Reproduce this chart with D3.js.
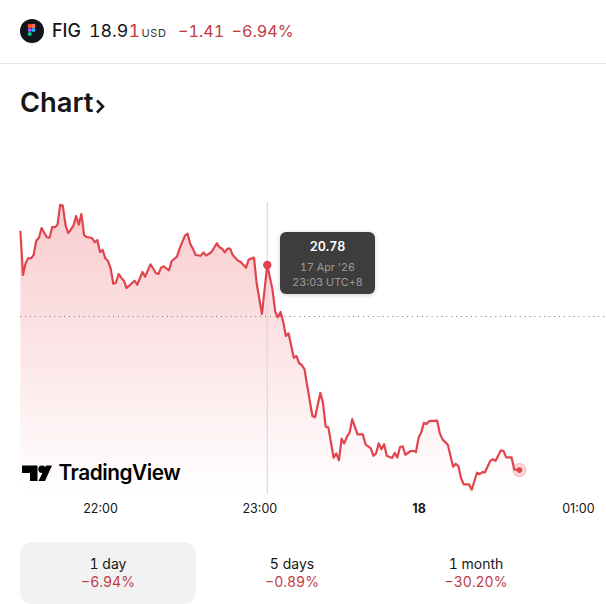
<!DOCTYPE html>
<html><head><meta charset="utf-8">
<script src="https://cdn.jsdelivr.net/npm/d3@7/dist/d3.min.js"></script>
<style>html,body{margin:0;padding:0;background:#fff;overflow:hidden}svg{display:block;font-family:Inter,sans-serif;font-variant-numeric:tabular-nums}.tick text{font-variant-numeric:normal}</style>
</head><body><svg id="c" width="606" height="604"></svg>
<script>
// minutes after 21:30
const minutes=[0,1,2,3,4,5,6,7,8,9,10,11,12,13,14,15,16,17,18,19,20,21,22,23,24,25,27,28,29,30,31,32,33,34,35,36,37,38,39,40,41,43,44,46,47,49,50,51,52,53,54,56,57,59,60,62,63,64,65,66,68,69,70,72,74,75,76,77,78,79,80,82,83,85,86,88,89,91,93,95,96,97,98,99,100,101,103,104,105,106,107,108,110,111,113,114,115,116,118,119,120,121,122,123,124,125,127,129,130,132,133,134,135,136,137,138,140,141,142,143,144,145,147,148,149,150,151,152,153,154,157,158,159,161,163,164,165,166,167,169,170,172,173,174,175,177,178,179,181,182,183,185,186,188];
const prices=[21.089,20.69,20.798,20.843,20.84,20.87,20.999,21.026,21.113,21.071,21.03,21.026,21.123,21.12,21.143,21.321,21.315,21.141,21.068,21.098,21.134,21.222,21.143,21.24,21.05,21.032,21.023,20.985,21.005,20.897,20.915,20.84,20.816,20.75,20.611,20.62,20.699,20.665,20.638,20.572,20.593,20.638,20.602,20.717,20.674,20.786,20.75,20.708,20.699,20.756,20.768,20.732,20.816,20.855,20.93,21.044,21.062,20.969,20.927,20.87,20.863,20.894,20.864,20.897,20.976,20.939,20.927,20.894,20.927,20.927,20.87,20.819,20.807,20.756,20.828,20.846,20.615,20.338,20.78,20.554,20.359,20.308,20.356,20.269,20.14,20.164,19.944,19.959,19.894,19.878,19.842,19.698,19.418,19.407,19.628,19.533,19.322,19.316,19.042,19.082,19.019,19.214,19.172,19.232,19.268,19.391,19.253,19.253,19.163,19.127,19.06,19.082,19.172,19.118,19.163,19.06,19.04,19.086,19.046,19.139,19.145,19.069,19.103,19.105,19.094,19.223,19.271,19.358,19.346,19.373,19.376,19.262,19.208,19.16,18.961,18.988,18.965,18.857,18.802,18.802,18.754,18.907,18.895,18.913,18.911,19.015,19.028,19.015,19.109,19.103,19.046,19.046,18.938,18.931];
const previousClose=20.32;
const tickMinutes=[30,90,150,210];
const tickLabels=["22:00","23:00","18","01:00"];
const hoverMinute=93;
const tabNames=["1 day","5 days","1 month"];
const tabChanges=["\u22126.94%","\u22120.89%","\u221230.20%"];

const RED="#e2444e",TXT="#c23b45",INK="#161616";
const svg=d3.select("#c");
const x=d3.scaleLinear().domain([0,210]).range([20.35,577.9]);
const y=d3.scaleLinear().domain([21.4,18.7]).range([196.2,495.7]);
const pts=minutes.map((m,i)=>({m,p:prices[i]}));
const T=(s,a,b,o={})=>svg.append("text").attr("x",a).attr("y",b).attr("fill",o.fill||INK).attr("font-size",o.size||14).attr("font-weight",o.weight||400).attr("text-anchor",o.anchor||"start").text(s);

// header
const logo=svg.append("g");
logo.append("circle").attr("cx",32).attr("cy",31).attr("r",12).attr("fill","#12151c");
[["#f24e1e",29.7,26,"r"],["#ff7262",33.3,26,"l"],["#a259ff",29.7,30,"c"],["#1abcfe",33.4,30,"c"],["#0acf83",29.7,34,"c"]].forEach(d=>{
  logo.append("rect").attr("x",d[1]-2).attr("y",d[2]-2).attr("width",4).attr("height",4).attr("rx",d[3]=="c"?2:1).attr("fill",d[0]);
});
T("FIG",52,37,{size:18,weight:500});
const pr=T("18.9",89,37,{size:17.8,weight:400});
pr.append("tspan").attr("fill",TXT).text("1");
T("USD",141.5,37,{size:11,fill:"#333",weight:400}).attr("letter-spacing",0.6);
T("\u22121.41",178,37,{size:16.2,fill:TXT});
T("\u22126.94%",231.5,37,{size:16.2,fill:TXT});
svg.append("line").attr("x1",0).attr("x2",606).attr("y1",63.5).attr("y2",63.5).attr("stroke","#e8e8e8");
T("Chart",20,112,{size:27.3,weight:600});
svg.append("path").attr("d","M97 100.5 L103 106.5 L97 112.5").attr("fill","none").attr("stroke",INK).attr("stroke-width",2.6);

// area + line
const defs=svg.append("defs");
const g=defs.append("linearGradient").attr("id","fillG").attr("gradientUnits","userSpaceOnUse").attr("x1",0).attr("x2",0).attr("y1",205).attr("y2",494);
g.append("stop").attr("offset",0).attr("stop-color","#e8404c").attr("stop-opacity",0.27);
g.append("stop").attr("offset",1).attr("stop-color","#e8404c").attr("stop-opacity",0);
svg.append("path").datum(pts).attr("fill","url(#fillG)")
  .attr("d",d3.area().x(d=>x(d.m)).y0(494).y1(d=>y(d.p)));
svg.append("line").attr("x1",x(hoverMinute)).attr("x2",x(hoverMinute)).attr("y1",202).attr("y2",494).attr("stroke","#d6d6d6");
svg.append("line").attr("x1",20).attr("x2",606).attr("y1",y(previousClose)+.5).attr("y2",y(previousClose)+.5).attr("stroke","#777").attr("stroke-dasharray","1 3.9");
svg.append("path").datum(pts).attr("fill","none").attr("stroke",RED).attr("stroke-width",2.2).attr("stroke-linejoin","round")
  .attr("d",d3.line().x(d=>x(d.m)).y(d=>y(d.p)));

// markers
const hp=pts.find(d=>d.m===hoverMinute), last=pts[pts.length-1];
svg.append("circle").attr("cx",x(hp.m)).attr("cy",y(hp.p)).attr("r",4.2).attr("fill",RED);
svg.append("circle").attr("cx",x(last.m)).attr("cy",y(last.p)).attr("r",6.5).attr("fill",RED).attr("fill-opacity",.2).attr("stroke",RED).attr("stroke-opacity",.35);
svg.append("circle").attr("cx",x(last.m)).attr("cy",y(last.p)).attr("r",2.8).attr("fill",RED);

// tooltip
defs.append("filter").attr("id","sh").attr("x","-20%").attr("y","-20%").attr("width","140%").attr("height","140%")
  .append("feDropShadow").attr("dx",0).attr("dy",1).attr("stdDeviation",2).attr("flood-opacity",.2);
svg.append("rect").attr("x",280).attr("y",232).attr("width",95).attr("height",62).attr("rx",6).attr("fill","#3d3d3d").attr("filter","url(#sh)");
T("20.78",327.5,251,{size:12.5,weight:600,fill:"#fff",anchor:"middle"});
T("17 Apr '26",327.5,271,{size:10.8,fill:"#9c9c9c",anchor:"middle"});
T("23:03 UTC+8",327.5,286,{size:10.8,fill:"#9c9c9c",anchor:"middle"});

// x axis
const ax=svg.append("g").attr("transform","translate(0,497)")
  .call(d3.axisBottom(x).tickValues(tickMinutes).tickFormat((d,i)=>tickLabels[i]).tickSize(0).tickPadding(0));
ax.select(".domain").remove();
ax.selectAll("text").attr("dy",0).attr("y",16).attr("font-family","Inter,sans-serif").attr("font-size",12.5).attr("fill",INK)
  .attr("font-weight",(d,i)=>tickLabels[i]==="18"?700:400);

// TradingView mark
svg.append("path").attr("fill","#000").attr("d","M22 465.5H37.5V481H30V473H22Z M46 465.5H52L45 481H38.5Z");
svg.append("circle").attr("cx",42).attr("cy",469.3).attr("r",3.7).attr("fill","#000");
T("TradingView",58.5,480,{size:20.8,weight:600,fill:"#000"}).attr("letter-spacing",-0.45);

// tabs
svg.append("rect").attr("x",20).attr("y",542).attr("width",176).attr("height",62).attr("rx",12).attr("fill","#f2f2f2");
const tabX=d3.scaleOrdinal().domain(tabNames).range([108,292,476]);
tabNames.forEach((n,i)=>{
  T(n,tabX(n),569,{size:14,anchor:"middle"});
  T(tabChanges[i],tabX(n),587,{size:14,fill:TXT,anchor:"middle"});
});
</script></body></html>
